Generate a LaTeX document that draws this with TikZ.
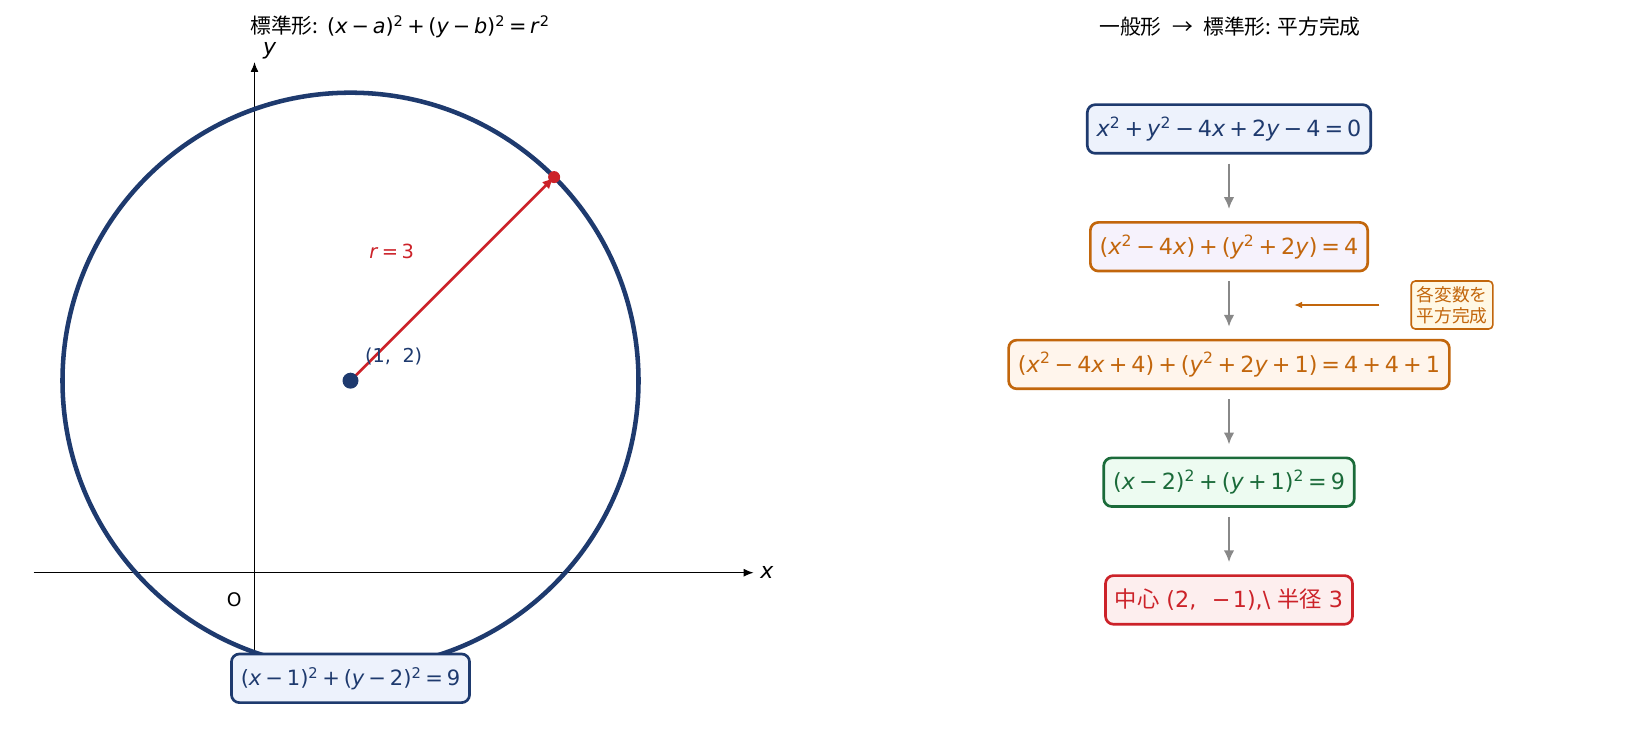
\documentclass[tikz,border=0pt]{standalone}
\usepackage{fontspec}
\setmainfont{DejaVu Sans}
\newfontfamily\jp{Noto Sans CJK JP}
\usetikzlibrary{positioning,arrows.meta}
\definecolor{navy}{HTML}{1E3A6E}
\definecolor{navyfill}{HTML}{EDF2FC}
\definecolor{orng}{HTML}{C2660C}
\definecolor{lavfill}{HTML}{F6F2FC}
\definecolor{peachfill}{HTML}{FFF5EC}
\definecolor{notefill}{HTML}{FFF8E5}
\definecolor{grn}{HTML}{1B6B3A}
\definecolor{grnfill}{HTML}{EDFBF1}
\definecolor{rd}{HTML}{CC2229}
\definecolor{rdfill}{HTML}{FDEEEE}
\definecolor{arrowgray}{HTML}{888888}
\newcommand{\vr}[1]{\textit{#1}}
\newcommand{\sqd}{\textsuperscript{2}}
\newcommand{\op}[1]{\hspace{0.18em}#1\hspace{0.18em}}
\newcommand{\eqfont}{\fontsize{16.7}{19}\selectfont}
\begin{document}
\begin{tikzpicture}[x=0.75pt,y=0.75pt,
  eqbox/.style={draw,rounded corners=6pt,line width=2pt,inner xsep=7pt,inner ysep=1pt,minimum height=36.5pt,font=\eqfont},
  down/.style={draw=arrowgray,line width=1.7pt,-{Latex[length=9pt,width=8pt]},shorten <=6.75pt,shorten >=9pt},
  axis/.style={line width=1.1pt,-{Latex[length=7.5pt,width=6pt]}},
  node distance=49.8pt]
\useasboundingbox (0,0) rectangle (1643,732);
% titles
\node[font=\fontsize{15.6}{18}\selectfont] (tl) at (400,705) {{\jp 標準形:} (\vr{x}\op{−}\vr{a})\sqd\op{+}(\vr{y}\op{−}\vr{b})\sqd\op{=}\vr{r}\sqd};
\node[font=\jp\fontsize{15.6}{18}\selectfont] (tr) at (1230,705) {一般形\hspace{0.5em}→\hspace{0.5em}標準形: 平方完成};
% circle (x-1)^2+(y-2)^2=9
\begin{scope}[shift={(254.5,159.3)},x=72pt,y=72pt]
\draw[axis] (-2.3,0) -- (5.2,0);
\draw[axis] (0,-1.1) -- (0,5.32);
\node[anchor=west,font=\fontsize{16.5}{18}\selectfont] (xl) at (5.22,0) {\vr{x}};
\node[font=\fontsize{16.5}{18}\selectfont] (yl) at (0.16,5.44) {\vr{y}};
\node[font=\fontsize{14}{16}\selectfont] (ol) at (-0.21,-0.28) {O};
\draw[navy,line width=3.4pt] (1,2) circle[radius=3];
\coordinate (c) at (1,2);
\coordinate (p) at (3.121,4.121);
\draw[rd,line width=2pt,-{Latex[length=9pt,width=7.5pt]}] (c) -- (p);
\fill[navy] (c) circle[radius=6pt];
\fill[rd] (p) circle[radius=4.5pt];
\node[navy,font=\fontsize{14.4}{16}\selectfont] (cl) at (1.45,2.25) {(1,\hspace{0.6em}2)};
\node[rd,font=\fontsize{14.6}{16}\selectfont] (rl) at (1.43,3.35) {\vr{r}\op{=}3};
\node[eqbox,draw=navy,fill=navyfill,text=navy,font=\fontsize{15.8}{18}\selectfont] (eq) at (1,-1.1) {(\vr{x}\op{−}1)\sqd\op{+}(\vr{y}\op{−}2)\sqd\op{=}9};
\end{scope}
% general form -> standard form
\node[eqbox,draw=navy,fill=navyfill,text=navy] (b1) at (1229,603) {\vr{x}\sqd\op{+}\vr{y}\sqd\op{−}4\vr{x}\op{+}2\vr{y}\op{−}4\op{=}0};
\node[eqbox,draw=orng,fill=lavfill,text=orng,below=of b1] (b2) {(\vr{x}\sqd\op{−}4\vr{x})\op{+}(\vr{y}\sqd\op{+}2\vr{y})\op{=}4};
\node[eqbox,draw=orng,fill=peachfill,text=orng,below=of b2] (b3) {(\vr{x}\sqd\op{−}4\vr{x}\op{+}4)\op{+}(\vr{y}\sqd\op{+}2\vr{y}\op{+}1)\op{=}4\op{+}4\op{+}1};
\node[eqbox,draw=grn,fill=grnfill,text=grn,below=of b3] (b4) {(\vr{x}\op{−}2)\sqd\op{+}(\vr{y}\op{+}1)\sqd\op{=}9};
\node[eqbox,draw=rd,fill=rdfill,text=rd,below=of b4] (b5) {{\jp 中心} (2,\hspace{0.7em}−\hspace{0.1em}1),\textbackslash\ {\jp 半径} 3};
\draw[down] (b1) -- (b2);
\draw[down] (b2) -- (b3);
\draw[down] (b3) -- (b4);
\draw[down] (b4) -- (b5);
% note
\node[draw=orng,fill=notefill,text=orng,rounded corners=3pt,line width=1.2pt,inner sep=4pt,align=center,font=\jp\fontsize{13.3}{15.5}\selectfont] (note) at (1452,427) {各変数を\\平方完成};
\coordinate (tip) at (1294,427);
\draw[orng,line width=1.4pt,-{Latex[length=6pt,width=5pt]},shorten <=23.25pt] (note.west) -- (tip);
\end{tikzpicture}
\end{document}
